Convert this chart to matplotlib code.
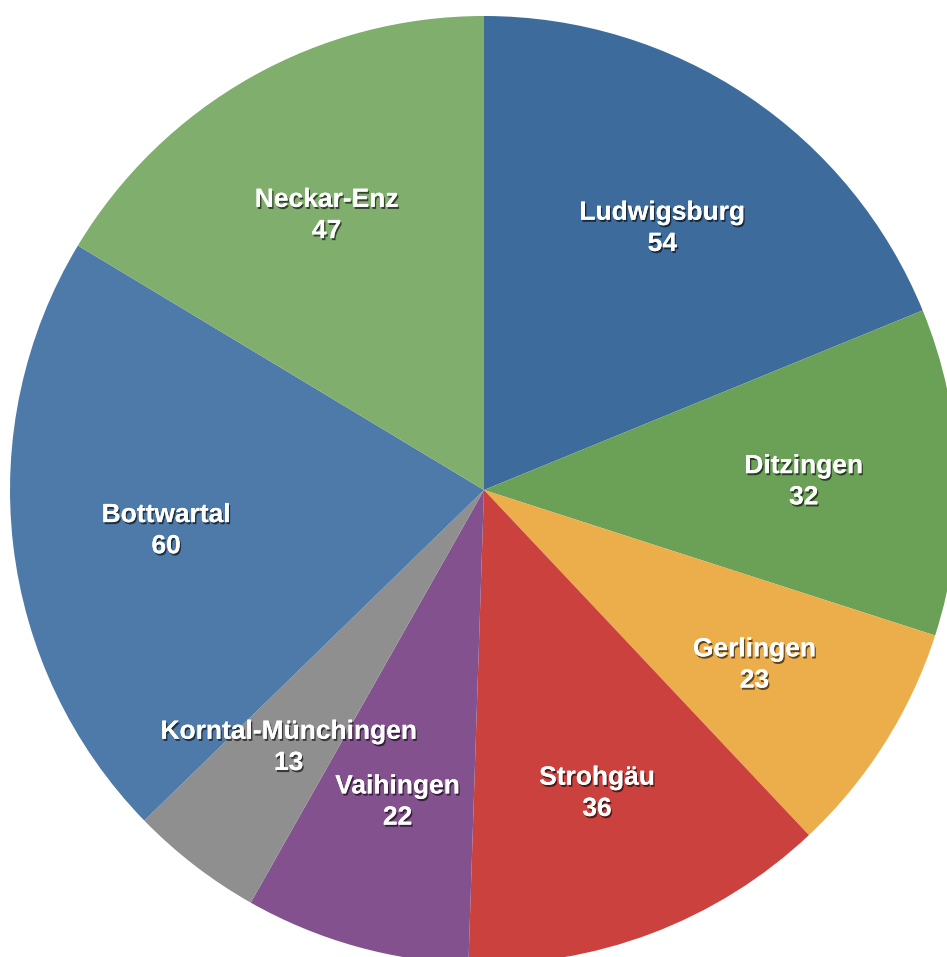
import matplotlib.pyplot as plt
import matplotlib.patheffects as pe

names = ['Ludwigsburg', 'Ditzingen', 'Gerlingen', 'Strohgäu', 'Vaihingen',
         'Korntal-Münchingen', 'Bottwartal', 'Neckar-Enz']
values = [54, 32, 23, 36, 22, 13, 60, 47]
colors = ['#3d6b9c', '#6aa157', '#ecad4b', '#cb413e', '#83518d',
          '#8e8f8e', '#4e7aa9', '#7fae6d']

W, H = 947, 957
cx, cy, r = 484, 490, 474

fig = plt.figure(figsize=(W / 100, H / 100), dpi=100)
ax = fig.add_axes([0, 0, 1, 1])

labels = ['%s\n%d' % (n, v) for n, v in zip(names, values)]
wedges, texts = ax.pie(values, labels=labels, colors=colors, startangle=90,
                       counterclock=False, labeldistance=0.675,
                       wedgeprops=dict(linewidth=0),
                       textprops=dict(color='white', fontsize=19, fontweight='bold',
                                      family='Liberation Sans', ha='center', va='center',
                                      linespacing=1.38))

# labels sit a few pixels lower in the original, plus a soft drop shadow
for t in texts:
    x, y = t.get_position()
    t.set_position((x, y - 4.0 / r))
    t.set_path_effects([pe.withSimplePatchShadow(offset=(1, -1.5), shadow_rgbFace='black', alpha=0.6),
                        pe.Normal()])

ax.set_xlim(-cx / r, (W - cx) / r)
ax.set_ylim(-(H - cy) / r, cy / r)
ax.set_aspect('auto')
ax.axis('off')

fig.savefig('out.png', dpi=100)
